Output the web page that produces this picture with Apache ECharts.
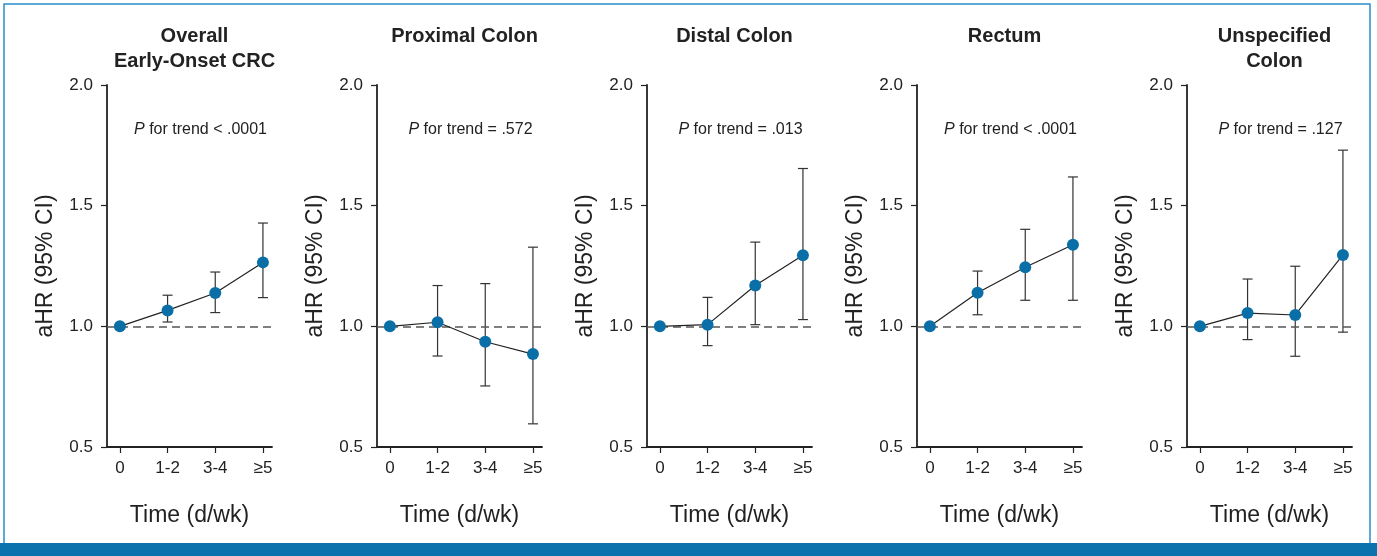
<!DOCTYPE html>
<html>
<head>
<meta charset="utf-8">
<script src="https://cdn.jsdelivr.net/npm/echarts@6/dist/echarts.min.js"></script>
<style>
  html, body { margin: 0; padding: 0; background: #fff; }
  #chart { width: 1377px; height: 556px; }
</style>
</head>
<body>
<div id="chart"></div>
<script>
// aHR (95% CI) by time (d/wk), five subsite panels
const categories = ['0', '1-2', '3-4', '\u22655']
const panelTitles = ['Overall\nEarly-Onset CRC', 'Proximal Colon', 'Distal Colon', 'Rectum', 'Unspecified\nColon']
const trendLabels = ['< .0001', '= .572', '= .013', '< .0001', '= .127']

const hrOverall = [1.0, 1.066, 1.138, 1.265]
const loOverall = [1.0, 1.018, 1.057, 1.119]
const hiOverall = [1.0, 1.129, 1.225, 1.428]

const hrProximal = [1.0, 1.017, 0.936, 0.885]
const loProximal = [1.0, 0.877, 0.753, 0.596]
const hiProximal = [1.0, 1.169, 1.177, 1.328]

const hrDistal = [1.0, 1.007, 1.169, 1.295]
const loDistal = [1.0, 0.920, 1.007, 1.028]
const hiDistal = [1.0, 1.120, 1.349, 1.654]

const hrRectum = [1.0, 1.139, 1.245, 1.338]
const loRectum = [1.0, 1.048, 1.108, 1.108]
const hiRectum = [1.0, 1.229, 1.402, 1.619]

const hrUnspec = [1.0, 1.055, 1.047, 1.296]
const loUnspec = [1.0, 0.945, 0.876, 0.976]
const hiUnspec = [1.0, 1.196, 1.249, 1.730]

const panels = [
  { hr: hrOverall, lo: loOverall, hi: hiOverall },
  { hr: hrProximal, lo: loProximal, hi: hiProximal },
  { hr: hrDistal, lo: loDistal, hi: hiDistal },
  { hr: hrRectum, lo: loRectum, hi: hiRectum },
  { hr: hrUnspec, lo: loUnspec, hi: hiUnspec },
]

const FONT = '"Liberation Sans", Arial, sans-serif'
const INK = '#222'
const DOT = '#0a6fa6'

const grids = []
const xAxes = []
const yAxes = []
const series = []
const titles = []

panels.forEach(function (p, i) {
  const left = 107 + 270 * i
  const cx = left + 82.5
  grids.push({ left: left, width: 165, top: 85, height: 362 })

  xAxes.push({
    gridIndex: i, type: 'value', min: -0.27, max: 3.19,
    name: 'Time (d/wk)', nameLocation: 'middle', nameGap: 57,
    nameTextStyle: { fontFamily: FONT, fontSize: 23, color: INK },
    axisLine: { onZero: false, lineStyle: { color: INK, width: 1.8 } },
    axisTick: { length: 6, customValues: [0, 1, 2, 3], lineStyle: { color: INK, width: 1.2 } },
    axisLabel: {
      customValues: [0, 1, 2, 3], margin: 13,
      fontFamily: FONT, fontSize: 17, color: INK,
      formatter: function (v) { return categories[Math.round(v)] }
    },
    splitLine: { show: false }
  })

  yAxes.push({
    gridIndex: i, type: 'value', min: 0.5, max: 2.0, interval: 0.5,
    name: 'aHR (95% CI)', nameLocation: 'middle', nameGap: 50,
    nameTextStyle: { fontFamily: FONT, fontSize: 23, color: INK },
    axisLine: { show: true, onZero: false, lineStyle: { color: INK, width: 1.8 } },
    axisTick: { show: true, length: 6, lineStyle: { color: INK, width: 1.2 } },
    axisLabel: {
      margin: 14, fontFamily: FONT, fontSize: 17, color: INK,
      formatter: function (v) { return v.toFixed(1) }
    },
    splitLine: { show: false }
  })

  // confidence intervals with caps
  series.push({
    type: 'custom', xAxisIndex: i, yAxisIndex: i, z: 3,
    data: p.hr.map(function (v, k) { return [k, p.lo[k], p.hi[k]] }),
    renderItem: function (params, api) {
      const top = api.coord([api.value(0), api.value(2)])
      const bot = api.coord([api.value(0), api.value(1)])
      const style = { stroke: '#333', lineWidth: 1.2 }
      return {
        type: 'group',
        children: [
          { type: 'line', shape: { x1: top[0], y1: top[1], x2: bot[0], y2: bot[1] }, style: style },
          { type: 'line', shape: { x1: top[0] - 5, y1: top[1], x2: top[0] + 5, y2: top[1] }, style: style },
          { type: 'line', shape: { x1: bot[0] - 5, y1: bot[1], x2: bot[0] + 5, y2: bot[1] }, style: style }
        ]
      }
    }
  })

  series.push({
    type: 'line', xAxisIndex: i, yAxisIndex: i, z: 5,
    data: p.hr.map(function (v, k) { return [k, v] }),
    symbol: 'circle', symbolSize: 12,
    itemStyle: { color: DOT },
    lineStyle: { color: INK, width: 1.2 },
    markLine: {
      silent: true, symbol: 'none', label: { show: false },
      lineStyle: { color: '#555', type: [8, 5], width: 1.5 },
      data: [{ yAxis: 1.0 }]
    },
    animation: false
  })

  titles.push({
    text: panelTitles[i], left: cx, top: 19, textAlign: 'center',
    textStyle: { fontFamily: FONT, fontSize: 20, fontWeight: 'bold', color: INK, lineHeight: 25 }
  })
  titles.push({
    text: '{i|P} for trend ' + trendLabels[i], left: cx + 6, top: 117, textAlign: 'center',
    textStyle: {
      fontFamily: FONT, fontSize: 16, fontWeight: 'normal', color: INK,
      rich: { i: { fontFamily: FONT, fontSize: 16, fontStyle: 'italic', color: INK } }
    }
  })
})

const chart = echarts.init(document.getElementById('chart'))
chart.setOption({
  backgroundColor: '#fff',
  animation: false,
  title: titles,
  grid: grids,
  xAxis: xAxes,
  yAxis: yAxes,
  series: series,
  graphic: [
    { type: 'rect', shape: { x: 4, y: 4, width: 1366, height: 545 }, style: { fill: 'none', stroke: '#2a8fc8', lineWidth: 1.5 }, z: -1 },
    { type: 'rect', shape: { x: 0, y: 543, width: 1377, height: 13 }, style: { fill: '#0b72ad' } }
  ]
})
</script>
</body>
</html>
